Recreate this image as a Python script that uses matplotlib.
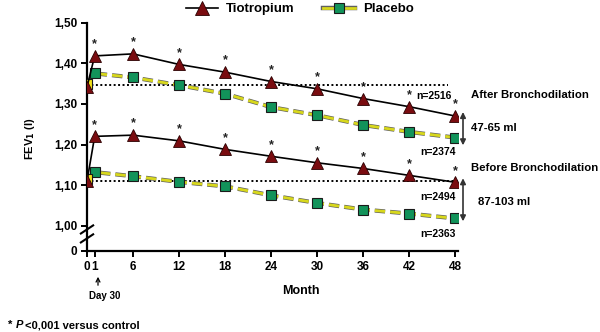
import matplotlib
matplotlib.use('Agg')
import matplotlib.pyplot as plt
import matplotlib.patheffects as pe
from matplotlib.lines import Line2D
from matplotlib.patches import FancyArrowPatch

plt.rcParams['font.family'] = ['Liberation Sans', 'DejaVu Sans']
plt.rcParams['font.weight'] = 'bold'
plt.rcParams['axes.labelweight'] = 'bold'
# dash lengths in points, so the outline stroke keeps the same pattern
plt.rcParams['lines.scale_dashes'] = False

months = [0, 1, 6, 12, 18, 24, 30, 36, 42, 48]

# FEV1 (l) after bronchodilation
tio_after = [1.342, 1.418, 1.423, 1.397, 1.378, 1.355, 1.337, 1.313, 1.293, 1.270]
pla_after = [1.348, 1.375, 1.365, 1.346, 1.325, 1.292, 1.272, 1.248, 1.231, 1.217]

# FEV1 (l) before bronchodilation
tio_before = [1.110, 1.220, 1.223, 1.209, 1.188, 1.171, 1.155, 1.141, 1.124, 1.107]
pla_before = [1.116, 1.132, 1.122, 1.108, 1.097, 1.075, 1.056, 1.040, 1.030, 1.018]

baseline_after = 1.347
baseline_before = 1.110

x_ticks = [0, 1, 6, 12, 18, 24, 30, 36, 42, 48]
y_bottom = 0.938
y_ticks = [y_bottom, 1.00, 1.10, 1.20, 1.30, 1.40, 1.50]
y_tick_labels = ['0', '1,00', '1,10', '1,20', '1,30', '1,40', '1,50']

TRI_RED = '#7a0c10'
SQ_GREEN = '#12935a'
DASH_YELLOW = '#d8d81c'

fig = plt.figure(figsize=(6, 3.32), dpi=100)
ax = fig.add_axes([0.145, 0.244, 0.619, 0.688])
ax.set_xlim(0, 48.4)
ax.set_ylim(y_bottom, 1.50)

# baselines at month 0
ax.plot([0, 47.0], [baseline_after] * 2, color='black', lw=1.4,
        linestyle=(0, (1.4, 1.8)), zorder=1)
ax.plot([0, 48.3], [baseline_before] * 2, color='black', lw=1.4,
        linestyle=(0, (1.4, 1.8)), zorder=1)

outline = [pe.Stroke(linewidth=3.0, foreground='#606060'), pe.Normal()]


def draw_placebo(values):
    ax.plot(months, values, color=DASH_YELLOW, lw=2.0, linestyle=(0, (7.5, 3.6)),
            path_effects=outline, zorder=2)
    ax.plot(months[1:], values[1:], linestyle='none', marker='s', ms=7,
            mfc=SQ_GREEN, mec='#1a1a1a', mew=0.8, zorder=3)
    ax.plot(months[:1], values[:1], linestyle='none', marker='s', ms=7,
            mfc='#f2e21a', mec='#1a1a1a', mew=0.8, zorder=3)


def draw_tiotropium(values):
    ax.plot(months, values, color='black', lw=1.2, zorder=4)
    ax.plot(months, values, linestyle='none', marker='^', ms=9,
            mfc=TRI_RED, mec='#2a0000', mew=0.6, zorder=5)
    for m, v in zip(months[1:], values[1:]):
        ax.annotate('*', (m, v), xytext=(0, 4), textcoords='offset points',
                    ha='center', va='bottom', fontsize=9, color='#222222')


draw_placebo(pla_after)
draw_placebo(pla_before)
draw_tiotropium(tio_after)
draw_tiotropium(tio_before)

# axes styling
for side in ['top', 'right']:
    ax.spines[side].set_visible(False)
for side in ['left', 'bottom']:
    ax.spines[side].set_linewidth(1.6)
ax.set_xticks(x_ticks)
ax.set_xticklabels([str(t) for t in x_ticks])
ax.set_yticks(y_ticks)
ax.set_yticklabels(y_tick_labels)
ax.tick_params(axis='both', direction='out', length=4, width=1.4,
               labelsize=8.5, pad=3)

# axis break marks
for yc in [0.991, 0.969]:
    ax.add_line(Line2D([-0.8, 0.8], [yc - 0.010, yc + 0.010], color='black',
                       lw=1.5, clip_on=False, zorder=6))

ax.set_xlabel('Month', fontsize=9)
ax.xaxis.set_label_coords(0.575, -0.15)
ax.set_ylabel(r'FEV$_\mathbf{1}$ (l)', fontsize=8)
ax.yaxis.set_label_coords(-0.135, 0.49)

# n counts and group labels
small = dict(fontsize=7.5, ha='left', va='center', clip_on=False)
ax.text(42.9, 1.319, 'n=2516', **small)
ax.text(43.4, 1.181, 'n=2374', **small)
ax.text(43.4, 1.070, 'n=2494', **small)
ax.text(43.4, 0.979, 'n=2363', **small)

big = dict(fontsize=8.2, ha='left', va='center', clip_on=False)
ax.text(50.0, 1.321, 'After Bronchodilation', **big)
ax.text(50.1, 1.240, '47-65 ml', **big)
ax.text(50.0, 1.142, 'Before Bronchodilation', **big)
ax.text(50.9, 1.058, '87-103 ml', **big)

# difference arrows at month 48
arrow = dict(arrowstyle='<|-|>', color='#333333', lw=1.2,
             mutation_scale=8, shrinkA=0, shrinkB=0)
ax.annotate('', xy=(49.0, 1.280), xytext=(49.0, 1.198),
            arrowprops=arrow, annotation_clip=False)
ax.annotate('', xy=(49.0, 1.117), xytext=(49.0, 1.011),
            arrowprops=arrow, annotation_clip=False)

# Day 30 marker below the axis
fig.text(105 / 600, 1 - 296 / 332, 'Day 30', fontsize=7, ha='center', va='center')
fig.patches.append(FancyArrowPatch(
    (98 / 600, 1 - 288 / 332), (98 / 600, 1 - 274 / 332),
    transform=fig.transFigure, arrowstyle='->', mutation_scale=7,
    color='black', lw=0.9))

# footnote
fig.text(8 / 600, 1 - 325 / 332, '*', fontsize=8, va='center')
fig.text(16 / 600, 1 - 325 / 332, 'P', fontsize=8, va='center', style='italic')
fig.text(25 / 600, 1 - 325 / 332, '<0,001 versus control', fontsize=8, va='center')

# legend
tio_handle = Line2D([], [], color='black', lw=1.2, marker='^', ms=10,
                    mfc=TRI_RED, mec='#2a0000', mew=0.6)
pla_back = Line2D([], [], color='#606060', lw=3.2)
pla_front = Line2D([], [], color=DASH_YELLOW, lw=2.0, marker='s', ms=7,
                   mfc=SQ_GREEN, mec='#1a1a1a', mew=0.8)
fig.legend([tio_handle, (pla_back, pla_front)], ['Tiotropium', 'Placebo'],
           loc='center', bbox_to_anchor=(0.5, 0.972), ncol=2, frameon=False,
           fontsize=9.5, handlelength=2.4, columnspacing=2.2, handletextpad=0.6)

fig.savefig('out.png', dpi=100)
